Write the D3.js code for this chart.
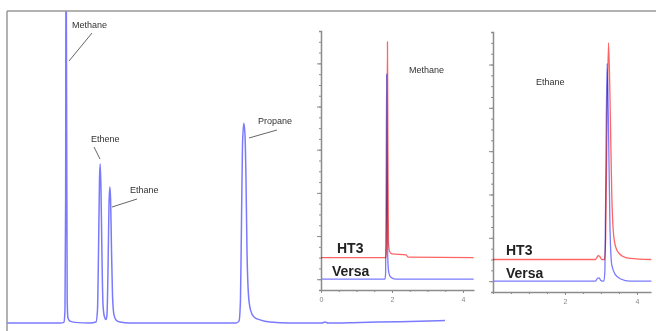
<!DOCTYPE html>
<html><head><meta charset="utf-8">
<script src="https://cdn.jsdelivr.net/npm/d3@7"></script>
<style>
body{margin:0;background:#fff;}
svg{display:block;font-family:"Liberation Sans",Arial,sans-serif;}
</style></head>
<body><svg id="c" width="656" height="331"></svg>
<script>
// ---- Main chromatogram (time in min, signal in arbitrary units) ----
const mainTime   = [0,0.815,0.877,0.892,0.902,0.908,0.917,0.926,0.938,0.969,1.046,1.277,1.369,1.392,1.408,1.423,1.434,1.446,1.462,1.477,1.5,1.523,1.538,1.554,1.569,1.582,1.594,1.608,1.623,1.646,1.677,1.738,1.892,3.523,3.569,3.592,3.608,3.623,3.643,3.662,3.677,3.692,3.715,3.746,3.8,3.892,4.046,4.354,4.846,4.892,4.938,5.43,6.046,6.738];
const mainSignal = [0,0,0.2,4.2,39,129,71,7.4,1.6,0.6,0.2,0,0.3,4.2,23,46,51,42.6,20,5.8,1.9,1.1,2.6,17,37.8,43.6,39.4,23.4,9,2.6,1,0.3,0,0,0.6,7.4,33,57,64,60,45.8,23.4,9,4.2,1.9,1,0.3,0,0,0.3,0,0.2,0.4,0.8];
const mainPeaks = ["Methane","Ethene","Ethane","Propane"];
const mainPeakTime = [0.908,1.434,1.582,3.643];

// ---- Inset 1: Methane ----
const ins1Title = "Methane";
const ins1VersaT = [0,1.80,1.82,1.835,1.85,1.865,1.88,1.91,1.96,2.1,4.3];
const ins1VersaV = [0,0,0.5,8,19,8,2,0.6,0.2,0,0];
const ins1HT3T   = [0,1.83,1.845,1.86,1.872,1.885,1.9,1.93,2.0,2.4,2.45,4.3];
const ins1HT3V   = [2,2,3,12,22,12,3.5,2.6,2.35,2.25,2.05,2];
const ins1XLabels = [0,2,4];

// ---- Inset 2: Ethane ----
const ins2Title = "Ethane";
const ins2VersaT = [0,2.85,2.9,2.95,3.0,3.08,3.11,3.14,3.17,3.21,3.25,3.3,3.4,3.55,3.8,4.4];
const ins2VersaV = [0,0,0.25,0.3,0.05,0,1,12,20.1,14,5,1.5,0.6,0.2,0,0];
const ins2HT3T   = [0,2.85,2.92,2.96,3.02,3.1,3.13,3.17,3.21,3.25,3.3,3.36,3.45,3.6,3.8,4.4];
const ins2HT3V   = [2,2,2.35,2.3,2.0,2.0,4,15,22,17,8,4,2.8,2.3,2.1,2];
const ins2XLabels = [2,4];

const seriesNames = ["HT3","Versa"];
const blue = "rgb(122,122,255)", red = "rgb(255,100,100)", grey="#8c8c8c", txt="#333";

const svg = d3.select("#c");

// ---------- main ----------
const mx = d3.scaleLinear().domain([0,10]).range([7,657]);
const my = d3.scaleLinear().domain([0,100]).range([323,11]);
svg.append("clipPath").attr("id","mclip").append("rect").attr("x",7).attr("y",11).attr("width",649).attr("height",320);
const mainData = mainTime.map((t,i)=>[t,mainSignal[i]]);
const line = (xs,ys)=>d3.line().x(d=>xs(d[0])).y(d=>ys(d[1])).curve(d3.curveMonotoneX);
svg.append("path").datum(mainData).attr("clip-path","url(#mclip)")
  .attr("d",line(mx,my)).attr("fill","none").attr("stroke",blue).attr("stroke-width",1.5);

// frame
svg.append("line").attr("x1",mx(0)).attr("x2",656).attr("y1",my(100)).attr("y2",my(100)).attr("stroke","#999").attr("stroke-width",1.5);
svg.append("line").attr("x1",mx(0)).attr("x2",mx(0)).attr("y1",my(100)).attr("y2",331).attr("stroke","#999").attr("stroke-width",1.5);

// peak annotations
const ann = [
  {lx:72, ly:28, x1:69, y1:61, x2:92, y2:33},
  {lx:91, ly:142, x1:100, y1:159, x2:94, y2:147},
  {lx:130, ly:193, x1:112, y1:207, x2:137, y2:199},
  {lx:258, ly:124, x1:249, y1:138, x2:277, y2:130}
];
mainPeaks.forEach((name,i)=>{
  const a = ann[i], px = mx(mainPeakTime[i]);
  const dx = px - [66,100.2,109.8,243.8][i];
  svg.append("line").attr("x1",a.x1+dx).attr("y1",a.y1).attr("x2",a.x2+dx).attr("y2",a.y2)
    .attr("stroke","#666").attr("stroke-width",1);
  svg.append("text").attr("x",a.lx+dx).attr("y",a.ly).attr("font-size",9).attr("fill",txt).text(name);
});

// ---------- insets ----------
function inset(o){
  const x = d3.scaleLinear().domain(o.xd).range([o.x0,o.x1]);
  const y = d3.scaleLinear().domain([-1,23]).range([o.yb,o.yt]);
  const g = svg.append("g");
  g.append("g").attr("transform",`translate(${o.x0},0)`)
    .call(d3.axisLeft(y).tickValues(d3.range(-1,24)).tickSize(2).tickFormat(""));
  g.append("g").attr("transform",`translate(${o.x0},0)`)
    .call(d3.axisLeft(y).tickValues(d3.range(0,24,4)).tickSize(4).tickFormat("")).select(".domain").remove();
  g.append("g").attr("transform",`translate(0,${o.yb})`)
    .call(d3.axisBottom(x).tickValues(d3.range(0,o.xd[1],0.5)).tickSize(2).tickSizeOuter(0).tickFormat(""));
  const xl = g.append("g").attr("transform",`translate(0,${o.yb})`)
    .call(d3.axisBottom(x).tickValues(o.labels).tickSize(3).tickFormat(d3.format("d")));
  xl.select(".domain").remove();
  g.selectAll(".domain").attr("stroke",grey).attr("stroke-width",1.5);
  g.selectAll(".tick line").attr("stroke",grey);
  xl.selectAll("text").attr("font-size",7).attr("fill","#888").attr("dy","0.9em")
    .style("font-family","Liberation Sans, Arial, sans-serif");
  const vd = o.vt.map((t,i)=>[t,o.vv[i]]);
  const hd = o.ht.map((t,i)=>[t,o.hv[i]]);
  g.append("path").datum(vd).attr("d",line(x,y)).attr("fill","none").attr("stroke",blue).attr("stroke-width",1.3);
  g.append("path").datum(hd).attr("d",line(x,y)).attr("fill","none").attr("stroke",red).attr("stroke-width",1.3)
    .style("mix-blend-mode","multiply");
  g.append("text").attr("x",o.tx).attr("y",o.ty).attr("font-size",9).attr("fill",txt).text(o.title);
  g.append("text").attr("x",o.x0+o.hx).attr("y",y(2)-5).attr("font-size",14).attr("font-weight","bold").attr("fill","#222").text(seriesNames[0]);
  g.append("text").attr("x",o.x0+o.vx).attr("y",y(0)-3).attr("font-size",14).attr("font-weight","bold").attr("fill","#222").text(seriesNames[1]);
}
inset({xd:[0,4.31],x0:321,x1:474,yb:290,yt:31,vt:ins1VersaT,vv:ins1VersaV,ht:ins1HT3T,hv:ins1HT3V,
  labels:ins1XLabels,title:ins1Title,tx:409,ty:73,hx:16,vx:11});
inset({xd:[0,4.39],x0:493,x1:651,yb:292,yt:32,vt:ins2VersaT,vv:ins2VersaV,ht:ins2HT3T,hv:ins2HT3V,
  labels:ins2XLabels,title:ins2Title,tx:536,ty:85,hx:13,vx:13});
</script></body></html>
